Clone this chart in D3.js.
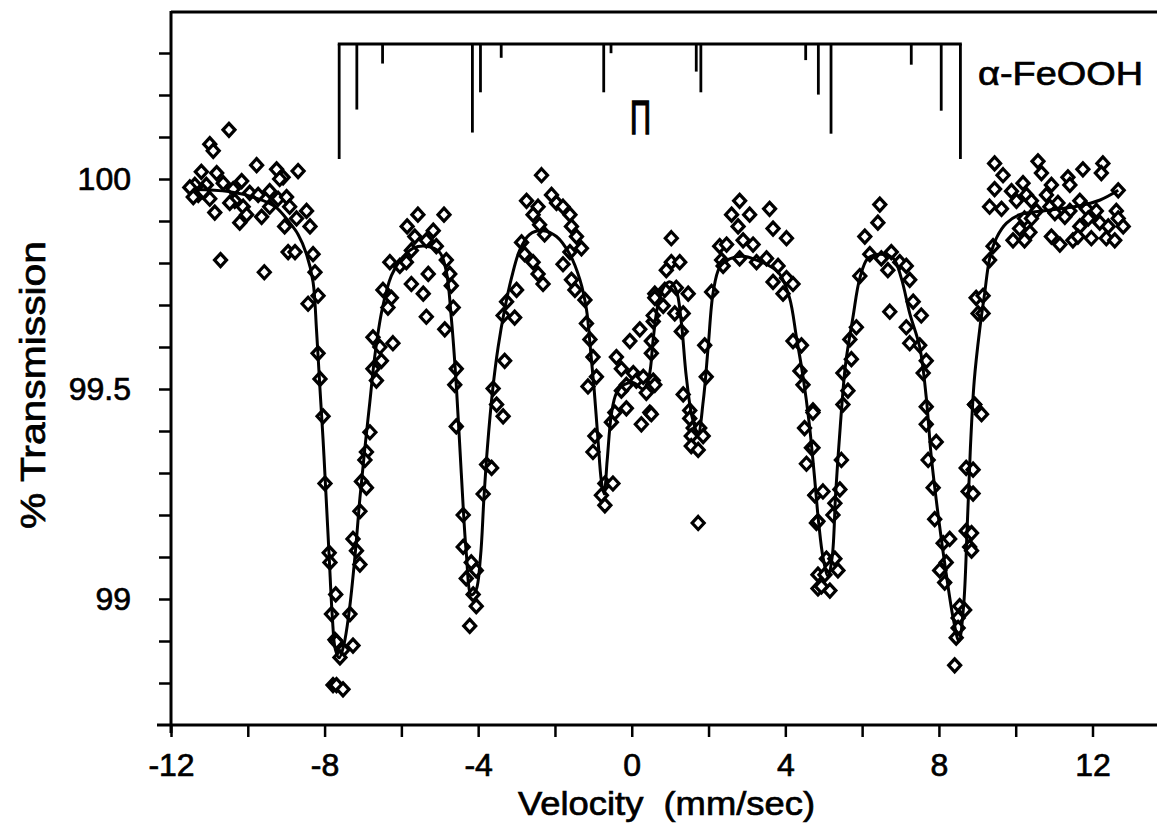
<!DOCTYPE html>
<html>
<head>
<meta charset="utf-8">
<script src="https://cdn.jsdelivr.net/npm/d3@7"></script>
<style>
  html, body { margin: 0; padding: 0; background: #fff; }
  svg { display: block; }
  text { font-family: "Liberation Sans", Arial, Helvetica, sans-serif; fill: #000; stroke: #000; stroke-width: 0.7px; }
</style>
</head>
<body>
<svg id="chart" width="1157" height="826"></svg>
<script>
// Measured Mössbauer spectrum: source velocity (mm/s) and % transmission
const velocity = [
  -10.49,-10.99,-10.90,-11.21,-10.81,-11.38,-11.29,-11.08,-10.99,-10.86,-10.64,-10.38,-10.16,-10.34,-10.12,-9.95,-9.77,-10.21,-9.73,-9.64,
  -9.43,-9.43,-9.25,-9.08,-9.21,-8.69,-8.99,-8.91,-9.04,-8.73,-8.47,-8.38,-8.95,-8.77,-10.71,-9.57,-8.30,-8.25,-8.17,-8.43,
  -8.17,-8.12,-8.04,-7.99,-7.88,-7.86,-7.71,-7.82,-7.73,-7.78,-11.51,-11.42,-11.16,-10.47,-10.03,-9.17,
  -5.57,-4.89,-5.85,-5.17,-5.65,-5.35,-5.09,-5.74,-6.30,-6.04,-5.87,-5.30,-4.83,-4.74,-4.70,-5.74,-5.43,-6.48,-6.26,-6.35,
  -4.65,-5.35,-4.87,-6.74,-6.56,-6.22,-6.52,-6.74,-6.65,-4.57,-4.61,-6.82,-6.91,-6.95,-4.57,-7.04,-6.91,-7.08,-4.39,-7.26,
  -7.17,-7.08,-4.39,-4.18,-4.31,-4.05,-7.34,-4.13,-4.05,-4.22,-7.69,-7.52,-7.26,-7.60,-7.69,-7.52,-3.78,-3.87,
  -2.35,-2.09,-1.96,-1.79,-1.61,-2.74,-2.44,-2.57,-2.40,-1.57,-1.44,-1.31,-2.87,-2.27,-2.79,-2.57,-1.79,-1.61,-2.44,-2.31,
  -1.57,-1.48,-1.22,-3.00,-3.26,-3.35,-3.05,-1.18,-3.31,-3.61,-3.52,-3.35,-3.65,-1.09,-1.01,-0.92,-1.14,-0.96,-1.01,-0.70,
  -0.49,-0.79,-0.70,-0.53,-0.44,-0.27,-0.40,-0.27,-0.14,-0.05,0.21,0.04,0.12,0.30,0.38,0.47,0.25,-0.14,0.56,0.51,0.56,0.60,
  1.03,1.03,1.25,0.90,0.86,1.16,1.47,0.82,1.12,1.34,0.60,0.56,0.51,1.29,0.60,0.51,1.34,1.51,1.51,1.60,
  1.77,1.55,1.86,1.55,1.73,1.73,1.94,1.90,2.08,2.34,2.29,2.47,2.60,2.81,3.07,2.77,2.90,3.16,2.38,2.81,
  3.25,3.51,3.59,3.68,4.03,3.81,3.68,3.94,4.03,4.20,4.20,4.42,4.38,4.46,4.72,4.50,4.68,4.55,4.77,4.81,4.85,4.85,
  6.46,6.41,6.07,6.20,6.50,6.76,6.98,7.15,6.67,7.24,5.94,6.72,7.33,7.54,7.15,7.24,7.50,7.67,7.59,5.85,
  5.68,5.72,5.50,5.63,5.50,7.67,7.67,7.93,7.72,7.85,7.89,8.11,8.28,8.02,8.19,8.15,5.46,5.42,5.29,5.24,
  4.72,4.72,4.77,4.98,4.85,5.07,5.29,5.37,5.03,5.16,4.94,8.71,8.76,8.71,8.80,8.54,8.67,8.50,8.50,8.45,8.41,8.93,8.97,9.02,
  9.45,9.67,9.45,9.89,10.58,10.67,10.19,10.28,10.93,10.80,11.36,11.41,11.75,12.27,12.23,12.67,9.32,9.63,10.02,10.41,
  10.54,10.89,11.10,11.41,11.67,11.84,12.10,12.62,10.23,10.41,10.10,10.37,11.02,11.28,11.67,11.89,12.19,12.41,12.67,12.80,
  9.93,10.23,10.93,11.15,11.49,11.62,11.97,12.36,12.58,9.41,9.32,9.15,9.15,8.93,9.11,8.89,8.89,8.85,8.85
];
const transmission = [
  100.117,100.083,100.067,100.017,100.014,99.986,99.962,99.986,99.953,99.920,99.990,99.976,99.995,99.948,99.934,99.967,100.033,99.896,99.962,99.910,
  99.934,99.971,100.023,100.004,99.953,100.019,99.957,99.934,99.887,99.906,99.924,99.887,99.826,99.826,99.807,99.778,99.821,99.778,99.722,99.703,
  99.585,99.524,99.435,99.275,99.110,99.087,99.011,98.964,98.903,98.795,99.980,99.957,99.970,99.943,99.915,100.000,
  99.915,99.915,99.887,99.877,99.863,99.854,99.840,99.830,99.802,99.793,99.802,99.774,99.807,99.774,99.746,99.750,99.727,99.736,99.717,99.694,
  99.694,99.672,99.642,99.623,99.600,99.609,99.567,99.548,99.520,99.548,99.510,99.397,99.350,99.331,99.411,99.280,99.265,99.209,99.200,99.143,
  99.115,99.082,99.124,99.087,99.049,99.068,98.964,99.011,98.983,98.936,98.898,98.879,98.889,98.861,98.795,98.785,99.320,99.250,
  100.009,99.962,99.943,99.934,99.915,99.948,99.934,99.915,99.891,99.887,99.863,99.835,99.849,99.868,99.821,99.802,99.797,99.826,99.774,99.750,
  99.760,99.736,99.712,99.736,99.708,99.675,99.670,99.656,99.567,99.501,99.463,99.435,99.312,99.618,99.576,99.529,99.506,99.388,99.350,99.275,
  99.275,99.247,99.223,99.421,99.444,99.496,99.576,99.548,99.510,99.614,99.642,99.538,99.520,99.529,99.491,99.444,99.416,99.454,99.520,99.585,99.661,99.727,
  99.859,99.802,99.802,99.783,99.736,99.741,99.727,99.698,99.680,99.680,99.717,99.675,99.614,99.637,99.510,99.440,99.487,99.449,99.430,99.407,
  99.407,99.388,99.388,99.364,99.355,99.181,99.529,99.604,99.731,99.807,99.840,99.844,99.915,99.948,99.915,99.887,99.854,99.844,99.793,99.811,
  99.802,99.811,99.929,99.882,99.859,99.793,99.755,99.727,99.764,99.750,99.614,99.604,99.543,99.510,99.449,99.407,99.360,99.322,99.247,99.181,99.058,99.025,
  99.939,99.896,99.863,99.821,99.811,99.826,99.802,99.793,99.783,99.760,99.769,99.684,99.708,99.675,99.647,99.609,99.604,99.567,99.538,99.647,
  99.618,99.571,99.538,99.496,99.463,99.458,99.416,99.374,99.331,99.265,99.190,99.133,99.143,99.068,99.087,99.039,99.331,99.261,99.228,99.200,
  99.444,99.360,99.247,99.256,99.185,99.096,99.096,99.068,99.058,99.020,99.030,99.312,99.256,99.162,99.124,98.983,98.974,98.955,98.931,98.908,98.842,99.463,99.717,99.680,
  100.037,100.009,99.976,99.971,100.042,100.014,99.990,99.962,99.986,99.962,100.004,99.986,100.023,100.037,100.014,99.973,99.934,99.929,99.948,99.948,
  99.924,99.934,99.943,99.924,99.948,99.929,99.924,99.924,99.906,99.906,99.882,99.873,99.919,99.910,99.887,99.906,99.896,99.887,99.906,99.887,
  99.854,99.854,99.863,99.844,99.854,99.863,99.859,99.859,99.854,99.840,99.807,99.722,99.680,99.463,99.440,99.308,99.251,99.157,99.115
];

// Fitted spectrum (sum of sextets)
const fitVelocity = [
  -11.4,-10.5,-9.8,-9.3,-8.9,-8.69,-8.47,-8.30,-8.21,-8.12,-8.04,-7.97,-7.88,-7.80,-7.72,-7.62,-7.50,-7.36,-7.21,-7.08,
  -6.95,-6.82,-6.69,-6.50,-6.26,-6.0,-5.7,-5.35,-5.0,-4.83,-4.70,-4.57,-4.44,-4.31,-4.18,-4.06,-3.94,-3.85,-3.76,-3.62,
  -3.48,-3.31,-3.13,-2.92,-2.66,-2.31,-1.96,-1.61,-1.35,-1.18,-1.08,-0.98,-0.88,-0.79,-0.72,-0.64,-0.53,-0.40,-0.20,0.05,
  0.30,0.45,0.56,0.68,0.85,1.0,1.16,1.29,1.42,1.58,1.73,1.86,1.99,2.12,2.29,2.55,2.90,3.25,3.59,3.85,
  4.11,4.29,4.46,4.62,4.75,4.87,4.98,5.11,5.22,5.31,5.43,5.57,5.76,5.94,6.15,6.46,6.81,7.02,7.24,7.50,
  7.67,7.80,7.98,8.19,8.38,8.52,8.64,8.74,8.82,8.92,9.06,9.19,9.32,9.50,9.76,10.10,10.8,11.6,12.2,12.67
];
const fitTransmission = [
  99.975,99.97,99.955,99.935,99.895,99.868,99.821,99.755,99.64,99.50,99.38,99.26,99.10,98.96,98.88,98.86,98.89,98.97,99.10,99.24,
  99.36,99.47,99.58,99.69,99.77,99.81,99.835,99.84,99.825,99.78,99.67,99.51,99.30,99.11,99.01,99.02,99.10,99.24,99.36,99.50,
  99.60,99.69,99.765,99.83,99.868,99.877,99.863,99.82,99.76,99.69,99.60,99.50,99.38,99.28,99.25,99.33,99.44,99.49,99.51,99.515,
  99.50,99.53,99.62,99.70,99.745,99.755,99.735,99.66,99.53,99.43,99.395,99.47,99.60,99.73,99.79,99.81,99.816,99.807,99.793,99.774,
  99.717,99.623,99.53,99.42,99.30,99.18,99.10,99.055,99.10,99.25,99.41,99.56,99.67,99.764,99.811,99.821,99.811,99.764,99.68,99.60,
  99.48,99.34,99.20,99.06,98.95,98.90,98.98,99.18,99.36,99.52,99.64,99.727,99.81,99.86,99.895,99.915,99.925,99.935,99.95,99.973
];

// Stick diagram: line positions (mm/s) and relative intensities
const stickVelocity  = [-7.62,-7.16,-6.49,-4.15,-3.94,-3.40,-0.73,-0.54,1.68,1.80,4.53,4.86,5.19,7.28,8.06,8.56];
const stickIntensity = [1.00, 0.57, 0.17, 0.77, 0.42, 0.12, 0.42, 0.08, 0.24, 0.42, 0.14, 0.44, 0.78, 0.18, 0.58, 1.00];

// Axis ticks and labels
const xTickValues = [-12,-10,-8,-6,-4,-2,0,2,4,6,8,10,12];
const xTickLabels = [-12,-8,-4,0,4,8,12];
const yTickValues = [98.8,98.9,99,99.1,99.2,99.3,99.4,99.5,99.6,99.7,99.8,99.9,100,100.1,100.2,100.3];
const yTickLabels = [99, 99.5, 100];

const svg = d3.select("#chart");
const W = 1157;

const x = d3.scaleLinear().domain([-12, 12]).range([171, 1092.5]);
const y = d3.scaleLinear().domain([98.7, 100.4]).range([725, 11]);
const stickLen = d3.scaleLinear().domain([0, 1]).range([44, 159]);

// frame lines: top rule, left axis, bottom axis
const frame = svg.append("g").attr("stroke", "#000").attr("stroke-width", 3).attr("fill", "none");
frame.append("line").attr("x1", x(-12)).attr("x2", W).attr("y1", y(100.4) + 1).attr("y2", y(100.4) + 1);
frame.append("line").attr("x1", x(-12)).attr("x2", x(-12)).attr("y1", y(100.4)).attr("y2", y(98.7) + 8);
frame.append("line").attr("x1", 157).attr("x2", W).attr("y1", y(98.7)).attr("y2", y(98.7));

// x axis
const xAxis = d3.axisBottom(x)
  .tickValues(xTickValues)
  .tickSize(12)
  .tickPadding(16)
  .tickFormat(d => xTickLabels.includes(d) ? String(d) : "");
const gx = svg.append("g").attr("transform", `translate(0,${y(98.7)})`).call(xAxis);
gx.select(".domain").remove();
gx.selectAll(".tick line").attr("stroke", "#000").attr("stroke-width", 2.5);
gx.selectAll(".tick text").attr("font-size", 32).attr("font-family", "Liberation Sans, Arial, sans-serif").attr("fill", "#000");

// y axis
const yAxis = d3.axisLeft(y)
  .tickValues(yTickValues)
  .tickSize(12)
  .tickPadding(28)
  .tickFormat(d => yTickLabels.some(v => Math.abs(v - d) < 1e-9) ? String(d) : "");
const gy = svg.append("g").attr("transform", `translate(${x(-12)},0)`).call(yAxis);
gy.select(".domain").remove();
gy.selectAll(".tick line").attr("stroke", "#000").attr("stroke-width", 2.5);
gy.selectAll(".tick text").attr("font-size", 32).attr("font-family", "Liberation Sans, Arial, sans-serif").attr("fill", "#000");

// axis titles
svg.append("text")
  .attr("x", 518).attr("y", 815)
  .attr("font-size", 34)
  .attr("textLength", 297).attr("lengthAdjust", "spacingAndGlyphs")
  .attr("xml:space", "preserve")
  .text("Velocity  (mm/sec)");
svg.append("text")
  .attr("transform", "translate(45,385) rotate(-90)")
  .attr("text-anchor", "middle")
  .attr("font-size", 35)
  .attr("textLength", 288).attr("lengthAdjust", "spacingAndGlyphs")
  .text("% Transmission");

// stick diagram
const sticks = svg.append("g").attr("stroke", "#000").attr("stroke-width", 2.8);
sticks.append("line")
  .attr("x1", x(d3.min(stickVelocity)) - 1.4).attr("x2", x(d3.max(stickVelocity)) + 1.4)
  .attr("y1", stickLen(0)).attr("y2", stickLen(0));
sticks.selectAll("line.stick")
  .data(stickVelocity.map((v, i) => ({ v, h: stickIntensity[i] })))
  .join("line")
  .attr("class", "stick")
  .attr("x1", d => x(d.v)).attr("x2", d => x(d.v))
  .attr("y1", stickLen(0)).attr("y2", d => stickLen(d.h));

svg.append("text")
  .attr("x", 630).attr("y", 134)
  .attr("font-size", 48)
  .style("stroke-width", "1.6px")
  .attr("textLength", 21).attr("lengthAdjust", "spacingAndGlyphs")
  .text("Π");

svg.append("text")
  .attr("x", 978).attr("y", 85)
  .attr("font-size", 33)
  .attr("textLength", 165).attr("lengthAdjust", "spacingAndGlyphs")
  .text("α-FeOOH");

// data markers: open diamonds
const diamond = "M0,-6.5L6,0L0,6.5L-6,0Z";
svg.append("g")
  .selectAll("path")
  .data(velocity.map((v, i) => [v, transmission[i]]))
  .join("path")
  .attr("d", diamond)
  .attr("transform", d => `translate(${x(d[0])},${y(d[1])})`)
  .attr("fill", "#fff")
  .attr("stroke", "#000")
  .attr("stroke-width", 3.2);

// fitted curve
const line = d3.line()
  .x(d => x(d[0]))
  .y(d => y(d[1]))
  .curve(d3.curveCatmullRom.alpha(0.5));
svg.append("path")
  .datum(fitVelocity.map((v, i) => [v, fitTransmission[i]]))
  .attr("d", line)
  .attr("fill", "none")
  .attr("stroke", "#000")
  .attr("stroke-width", 3);
</script>
</body>
</html>
